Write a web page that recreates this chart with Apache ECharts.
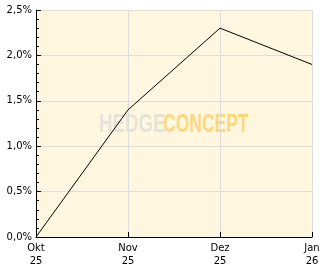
<!DOCTYPE html>
<html><head><meta charset="utf-8">
<script src="https://cdn.jsdelivr.net/npm/echarts@6/dist/echarts.min.js"></script>
<style>html,body{margin:0;padding:0;background:#fff}#c{width:332px;height:269px}</style>
</head><body><div id="c"></div>
<script>
var categories = ['Okt\n25', 'Nov\n25', 'Dez\n25', 'Jan\n26'];
var values = [0.0, 1.4, 2.3, 1.9];
var yTicks = { min: 0, max: 2.5, interval: 0.5 };

var chart = echarts.init(document.getElementById('c'), null, { renderer: 'canvas' });
var font = 'DejaVu Sans';
chart.setOption({
  animation: false,
  backgroundColor: '#ffffff',
  grid: { left: 36, right: 20, top: 10, bottom: 32, show: true, backgroundColor: '#fef6de', borderWidth: 0, containLabel: false, outerBoundsMode: 'none' },
  xAxis: {
    type: 'category', data: categories, boundaryGap: false,
    axisLine: { lineStyle: { color: '#000', width: 1 } },
    axisTick: { inside: true, length: 5, lineStyle: { color: '#000' } },
    axisLabel: { color: '#000', fontFamily: font, fontSize: 10, lineHeight: 13, margin: 5, showMaxLabel: true, showMinLabel: true },
    splitLine: { show: true, lineStyle: { color: '#dcdcdc', width: 1 } }
  },
  yAxis: {
    type: 'value', min: yTicks.min, max: yTicks.max, interval: yTicks.interval,
    axisLine: { show: true, lineStyle: { color: '#000', width: 1 } },
    axisTick: { show: true, inside: true, length: 5, lineStyle: { color: '#000' } },
    minorTick: { show: true, splitNumber: 5, length: 3, lineStyle: { color: '#000' } },
    axisLabel: { color: '#000', fontFamily: font, fontSize: 10, margin: 4,
      formatter: function (v) { return v.toFixed(1).replace('.', ',') + '%'; } },
    splitLine: { show: true, lineStyle: { color: '#dcdcdc', width: 1 } }
  },
  graphic: [
    { type: 'text', x: 99, y: 113, scaleX: 0.75, z: 0, style: { text: 'HEDGE', fill: '#e6e2d8', font: 'bold 25px "Liberation Sans"' } },
    { type: 'text', x: 163, y: 113, scaleX: 0.70, z: 0, style: { text: 'CONCEPT', fill: '#fdd680', font: 'bold 25px "Liberation Sans"' } }
  ],
  series: [{
    type: 'line', data: values, symbol: 'none', z: 5,
    lineStyle: { color: '#000', width: 1 }
  }]
});
</script></body></html>
